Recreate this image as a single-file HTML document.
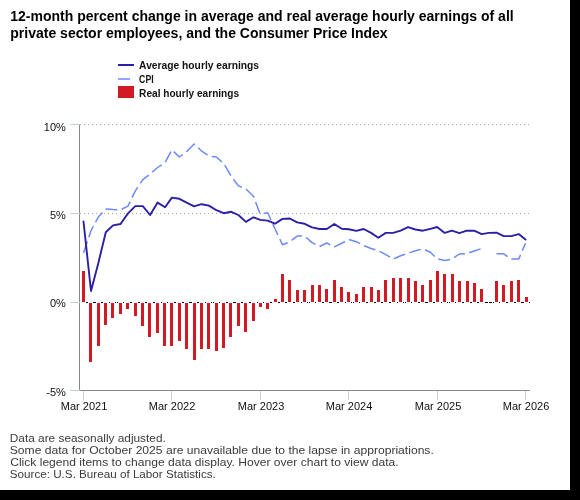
<!DOCTYPE html>
<html><head><meta charset="utf-8"><style>
html,body{margin:0;padding:0;background:#000;}
svg{display:block;will-change:transform}
text{font-family:"Liberation Sans",sans-serif;}
</style></head><body>
<svg width="580" height="500" viewBox="0 0 580 500">
<rect x="0" y="0" width="580" height="500" fill="#000"/>
<rect x="0" y="0" width="570" height="490" fill="#fff"/>
<g font-weight="bold" font-size="14" fill="#000">
<text x="10.3" y="21">12-month percent change in average and real average hourly earnings of all</text>
<text x="10.3" y="38">private sector employees, and the Consumer Price Index</text>
</g>
<rect x="118" y="64" width="16" height="2" fill="#2a1fa6"/>
<rect x="118" y="78" width="12" height="2" fill="#8fa4fa"/>
<rect x="118" y="86" width="16" height="12" fill="#d21a24"/>
<g font-weight="bold" font-size="11.6" fill="#111">
<text x="139.1" y="69" textLength="120" lengthAdjust="spacingAndGlyphs">Average hourly earnings</text>
<text x="139.1" y="82.5" textLength="14.5" lengthAdjust="spacingAndGlyphs">CPI</text>
<text x="139.1" y="96.5" textLength="100" lengthAdjust="spacingAndGlyphs">Real hourly earnings</text>
</g>
<path d="M80 124.5 H530" stroke="#a8a8a8" stroke-width="1" stroke-dasharray="1,3"/><path d="M80 213.5 H530" stroke="#a8a8a8" stroke-width="1" stroke-dasharray="1,3"/>
<path d="M80 302.5 H530" stroke="#000" stroke-width="1" stroke-dasharray="3,1" stroke-dashoffset="3"/>
<g fill="#d21a24" stroke="#fff" stroke-width="1"><rect x="81.5" y="270.5" width="4" height="32.0"/><rect x="88.5" y="302.5" width="4" height="60.0"/><rect x="96.5" y="302.5" width="4" height="44.0"/><rect x="103.5" y="302.5" width="4" height="23.0"/><rect x="110.5" y="302.5" width="4" height="16.0"/><rect x="118.5" y="302.5" width="4" height="12.0"/><rect x="125.5" y="302.5" width="4" height="7.0"/><rect x="133.5" y="302.5" width="4" height="14.0"/><rect x="140.5" y="302.5" width="4" height="24.0"/><rect x="147.5" y="302.5" width="4" height="35.0"/><rect x="155.5" y="302.5" width="4" height="31.0"/><rect x="162.5" y="302.5" width="4" height="44.0"/><rect x="169.5" y="302.5" width="4" height="44.0"/><rect x="177.5" y="302.5" width="4" height="39.0"/><rect x="184.5" y="302.5" width="4" height="47.0"/><rect x="192.5" y="302.5" width="4" height="58.0"/><rect x="199.5" y="302.5" width="4" height="47.0"/><rect x="206.5" y="302.5" width="4" height="47.0"/><rect x="214.5" y="302.5" width="4" height="49.0"/><rect x="221.5" y="302.5" width="4" height="46.0"/><rect x="228.5" y="302.5" width="4" height="35.0"/><rect x="236.5" y="302.5" width="4" height="24.0"/><rect x="243.5" y="302.5" width="4" height="30.0"/><rect x="251.5" y="302.5" width="4" height="19.0"/><rect x="258.5" y="302.5" width="4" height="5.0"/><rect x="265.5" y="302.5" width="4" height="7.0"/><rect x="273.5" y="298.5" width="4" height="4.0"/><rect x="280.5" y="273.5" width="4" height="29.0"/><rect x="287.5" y="279.5" width="4" height="23.0"/><rect x="295.5" y="289.5" width="4" height="13.0"/><rect x="302.5" y="289.5" width="4" height="13.0"/><rect x="310.5" y="284.5" width="4" height="18.0"/><rect x="317.5" y="284.5" width="4" height="18.0"/><rect x="324.5" y="288.5" width="4" height="14.0"/><rect x="332.5" y="279.5" width="4" height="23.0"/><rect x="339.5" y="286.5" width="4" height="16.0"/><rect x="346.5" y="291.5" width="4" height="11.0"/><rect x="354.5" y="293.5" width="4" height="9.0"/><rect x="361.5" y="286.5" width="4" height="16.0"/><rect x="369.5" y="286.5" width="4" height="16.0"/><rect x="376.5" y="289.5" width="4" height="13.0"/><rect x="383.5" y="279.5" width="4" height="23.0"/><rect x="391.5" y="277.5" width="4" height="25.0"/><rect x="398.5" y="277.5" width="4" height="25.0"/><rect x="406.5" y="277.5" width="4" height="25.0"/><rect x="413.5" y="280.5" width="4" height="22.0"/><rect x="420.5" y="284.5" width="4" height="18.0"/><rect x="428.5" y="279.5" width="4" height="23.0"/><rect x="435.5" y="270.5" width="4" height="32.0"/><rect x="442.5" y="273.5" width="4" height="29.0"/><rect x="450.5" y="273.5" width="4" height="29.0"/><rect x="457.5" y="280.5" width="4" height="22.0"/><rect x="465.5" y="280.5" width="4" height="22.0"/><rect x="472.5" y="282.5" width="4" height="20.0"/><rect x="479.5" y="288.5" width="4" height="14.0"/><rect x="494.5" y="280.5" width="4" height="22.0"/><rect x="501.5" y="284.5" width="4" height="18.0"/><rect x="509.5" y="280.5" width="4" height="22.0"/><rect x="516.5" y="279.5" width="4" height="23.0"/><rect x="524.5" y="296.5" width="4" height="6.0"/></g>
<path d="M83.5 252.9 L91.0 230.7 L98.3 217.1 L105.8 208.9 L113.0 209.6 L120.5 209.8 L128.0 206.1 L135.3 190.9 L142.8 179.7 L150.1 174.0 L157.6 167.5 L165.1 162.5 L171.9 149.9 L179.4 157.0 L186.6 151.7 L194.1 144.0 L201.4 150.8 L208.9 156.1 L216.4 157.0 L223.7 163.4 L231.2 176.3 L238.4 185.9 L245.9 188.9 L253.4 196.2 L260.2 214.1 L267.7 212.8 L275.0 228.8 L282.5 244.8 L289.7 241.9 L297.2 236.1 L304.7 235.9 L312.0 242.6 L319.5 246.5 L326.8 243.0 L334.3 246.9 L341.8 243.3 L348.8 239.4 L356.3 241.7 L363.6 245.5 L371.1 248.5 L378.3 250.6 L385.8 254.7 L393.3 259.1 L400.6 255.7 L408.1 253.3 L415.4 250.8 L422.9 248.8 L430.4 252.2 L437.1 258.8 L444.7 260.5 L451.9 259.1 L459.4 254.0 L466.7 253.6 L474.2 251.0 L481.7 248.5 M496.5 253.8 L503.7 253.8 L511.2 259.1 L518.7 259.1 L525.5 243.2" fill="none" stroke="#6d8af6" stroke-width="1.5" stroke-dasharray="12,4.5" stroke-linejoin="round"/>
<path d="M83.5 221.5 L91.0 291.0 L98.3 263.2 L105.8 232.3 L113.0 225.4 L120.5 224.0 L128.0 213.4 L135.3 206.1 L142.8 206.1 L150.1 215.0 L157.6 202.6 L165.1 207.3 L171.9 197.6 L179.4 198.8 L186.6 202.6 L194.1 206.3 L201.4 204.2 L208.9 205.6 L216.4 210.2 L223.7 213.2 L231.2 211.8 L238.4 215.0 L245.9 221.9 L253.4 217.3 L260.2 219.9 L267.7 220.6 L275.0 223.7 L282.5 218.9 L289.7 218.5 L297.2 222.4 L304.7 223.8 L312.0 227.4 L319.5 229.0 L326.8 229.0 L334.3 224.0 L341.8 228.8 L348.8 229.2 L356.3 230.9 L363.6 229.0 L371.1 232.9 L378.3 237.7 L385.8 232.9 L393.3 232.9 L400.6 230.6 L408.1 227.2 L415.4 229.5 L422.9 230.7 L430.4 228.8 L437.1 227.0 L444.7 232.9 L451.9 230.6 L459.4 233.1 L466.7 230.7 L474.2 230.7 L481.7 234.1 L488.9 232.9 L496.5 232.7 L503.7 236.1 L511.2 236.1 L518.7 234.1 L525.5 239.6" fill="none" stroke="#2a1fa6" stroke-width="1.9" stroke-linejoin="round" stroke-linecap="round"/>
<path d="M79.5 124 V391" stroke="#888" stroke-width="1"/>
<path d="M79 390.5 H530" stroke="#888" stroke-width="1"/>
<path d="M70 124.5 H80" stroke="#c0d0e0" stroke-width="1"/><path d="M70 213.5 H80" stroke="#c0d0e0" stroke-width="1"/><path d="M70 302.5 H80" stroke="#c0d0e0" stroke-width="1"/><path d="M70 390.5 H80" stroke="#c0d0e0" stroke-width="1"/><path d="M83.5 391 V400" stroke="#c0d0e0" stroke-width="1"/><path d="M171.5 391 V400" stroke="#c0d0e0" stroke-width="1"/><path d="M260.5 391 V400" stroke="#c0d0e0" stroke-width="1"/><path d="M348.5 391 V400" stroke="#c0d0e0" stroke-width="1"/><path d="M437.5 391 V400" stroke="#c0d0e0" stroke-width="1"/><path d="M525.5 391 V400" stroke="#c0d0e0" stroke-width="1"/>
<g font-size="11" fill="#111"><text x="65.8" y="130.5" text-anchor="end">10%</text><text x="65.8" y="218.5" text-anchor="end">5%</text><text x="65.8" y="306.5" text-anchor="end">0%</text><text x="65.8" y="395.5" text-anchor="end">-5%</text><text x="84.1" y="410" text-anchor="middle">Mar 2021</text><text x="172.1" y="410" text-anchor="middle">Mar 2022</text><text x="261.1" y="410" text-anchor="middle">Mar 2023</text><text x="349.1" y="410" text-anchor="middle">Mar 2024</text><text x="438.1" y="410" text-anchor="middle">Mar 2025</text><text x="526.1" y="410" text-anchor="middle">Mar 2026</text></g>
<g font-size="11" fill="#3a3a3a">
<text x="9.8" y="441.5" textLength="156" lengthAdjust="spacingAndGlyphs">Data are seasonally adjusted.</text>
<text x="9.8" y="453.7" textLength="424" lengthAdjust="spacingAndGlyphs">Some data for October 2025 are unavailable due to the lapse in appropriations.</text>
<text x="10.2" y="465.8" textLength="388.5" lengthAdjust="spacingAndGlyphs">Click legend items to change data display. Hover over chart to view data.</text>
<text x="9.8" y="477.8" textLength="206" lengthAdjust="spacingAndGlyphs">Source: U.S. Bureau of Labor Statistics.</text>
</g>
</svg>
</body></html>
